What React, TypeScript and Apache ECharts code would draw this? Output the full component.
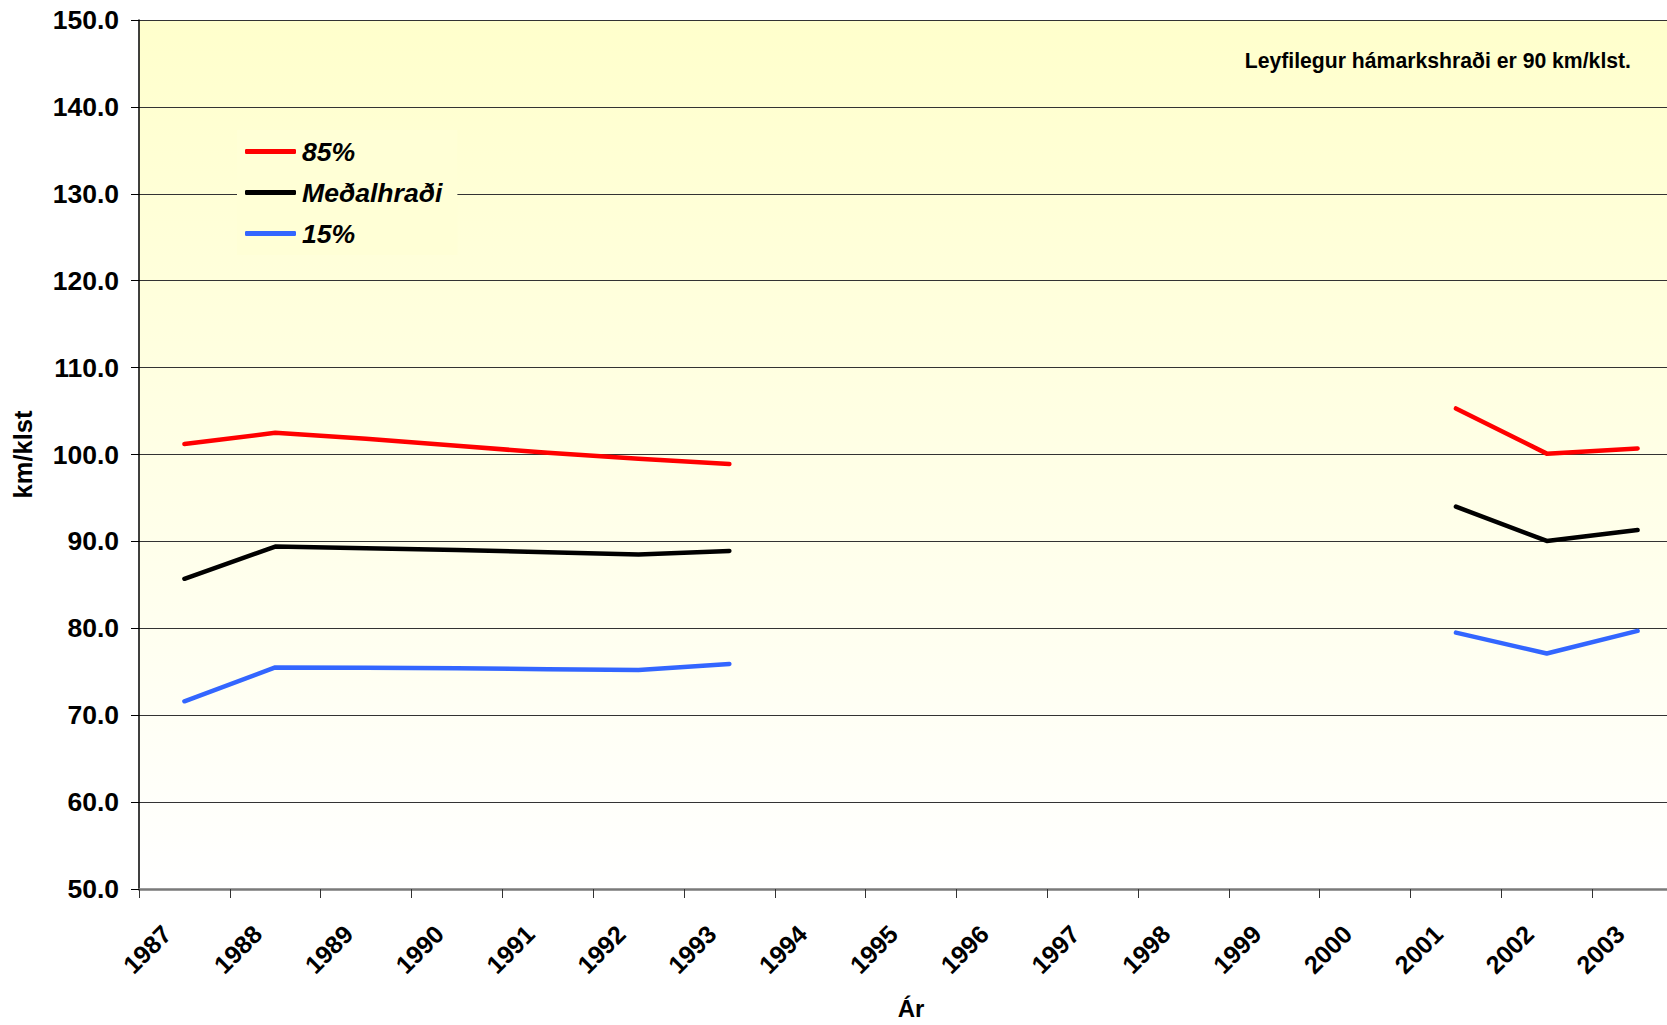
import React, { useEffect, useRef } from "react";
import * as echarts from "echarts";

const years = ["1987","1988","1989","1990","1991","1992","1993","1994","1995","1996","1997","1998","1999","2000","2001","2002","2003"];
const p85 = [101.2, 102.5, 101.8, 101.0, 100.2, 99.5, 98.9, null, null, null, null, null, null, null, 105.3, 100.1, 100.7];
const mean = [85.7, 89.4, 89.2, 89.0, 88.75, 88.5, 88.9, null, null, null, null, null, null, null, 94.0, 90.05, 91.3];
const p15 = [71.6, 75.5, 75.45, 75.4, 75.3, 75.2, 75.9, null, null, null, null, null, null, null, 79.5, 77.1, 79.7];
const seriesNames = ["85%", "Meðalhraði", "15%"];
const seriesColors = ["#FF0000", "#000000", "#3366FF"];
const note = "Leyfilegur hámarkshraði er 90 km/klst.";

const FONT = '"Liberation Sans", Arial, sans-serif';

export default function App() {
  const ref = useRef<HTMLDivElement>(null);
  useEffect(() => {
    if (!ref.current) return;
    const chart = echarts.init(ref.current, null, { renderer: "svg" });
    const values = [p85, mean, p15];
    chart.setOption({
      animation: false,
      backgroundColor: "#ffffff",
      textStyle: { fontFamily: FONT },
      grid: {
        left: 139,
        top: 20,
        right: 17,
        bottom: 131,
        show: true,
        borderWidth: 0,
        backgroundColor: new echarts.graphic.LinearGradient(0, 0, 0, 1, [
          { offset: 0, color: "#FFFFCC" },
          { offset: 1, color: "#FFFFFF" },
        ]),
      },
      legend: {
        data: seriesNames,
        orient: "vertical",
        left: 237,
        top: 130,
        padding: [8, 15, 8, 8],
        itemWidth: 51,
        itemHeight: 5,
        itemGap: 14,
        icon: "roundRect",
        backgroundColor: "#FFFFD6",
        textStyle: {
          fontFamily: FONT,
          fontSize: 26.6,
          fontWeight: "bold",
          fontStyle: "italic",
          color: "#000",
          lineHeight: 26,
          padding: [0, 0, 0, 1],
        },
      },
      xAxis: {
        type: "category",
        data: years,
        boundaryGap: true,
        name: "Ár",
        nameLocation: "middle",
        nameGap: 107,
        nameTextStyle: { fontFamily: FONT, fontSize: 24, fontWeight: "bold", color: "#000" },
        axisLine: { show: true, lineStyle: { color: "#7a7a7a", width: 2.5 } },
        axisTick: { show: true, interval: 0, length: 9, inside: false, lineStyle: { color: "#333", width: 1 } },
        axisLabel: {
          interval: 0,
          rotate: 45,
          margin: 23,
          padding: [0, 25, 0, 0],
          fontFamily: FONT,
          fontSize: 25,
          fontWeight: "bold",
          color: "#000",
        },
        splitLine: { show: false },
      },
      yAxis: {
        type: "value",
        min: 50,
        max: 150,
        interval: 10,
        name: "km/klst",
        nameLocation: "middle",
        nameGap: 103,
        nameRotate: 90,
        nameTextStyle: { fontFamily: FONT, fontSize: 25.5, fontWeight: "bold", color: "#000" },
        axisLine: { show: true, lineStyle: { color: "#000", width: 1.5 } },
        axisTick: { show: true, length: 8, inside: false, lineStyle: { color: "#000", width: 1 } },
        axisLabel: {
          margin: 20,
          formatter: (v: number) => v.toFixed(1),
          fontFamily: FONT,
          fontSize: 26.5,
          fontWeight: "bold",
          color: "#000",
        },
        splitLine: { show: true, lineStyle: { color: "#333", width: 1 } },
      },
      graphic: [
        {
          type: "text",
          x: 1631,
          y: 60,
          style: {
            text: note,
            fontFamily: FONT,
            fontSize: 21.2,
            fontWeight: "bold",
            fill: "#000",
            textAlign: "right",
            textVerticalAlign: "middle",
          },
        },
      ],
      series: seriesNames.map((name, i) => ({
        name,
        type: "line",
        data: values[i],
        showSymbol: false,
        symbol: "none",
        connectNulls: false,
        color: seriesColors[i],
        lineStyle: { color: seriesColors[i], width: 4.5, cap: "round", join: "round" },
      })),
    });
    return () => chart.dispose();
  }, []);
  return (
    <div style={{ position: "fixed", left: 0, top: 0, width: 1667, height: 1025, overflow: "hidden", background: "#fff" }}>
      <div ref={ref} style={{ width: 1700, height: 1025 }} />
    </div>
  );
}
